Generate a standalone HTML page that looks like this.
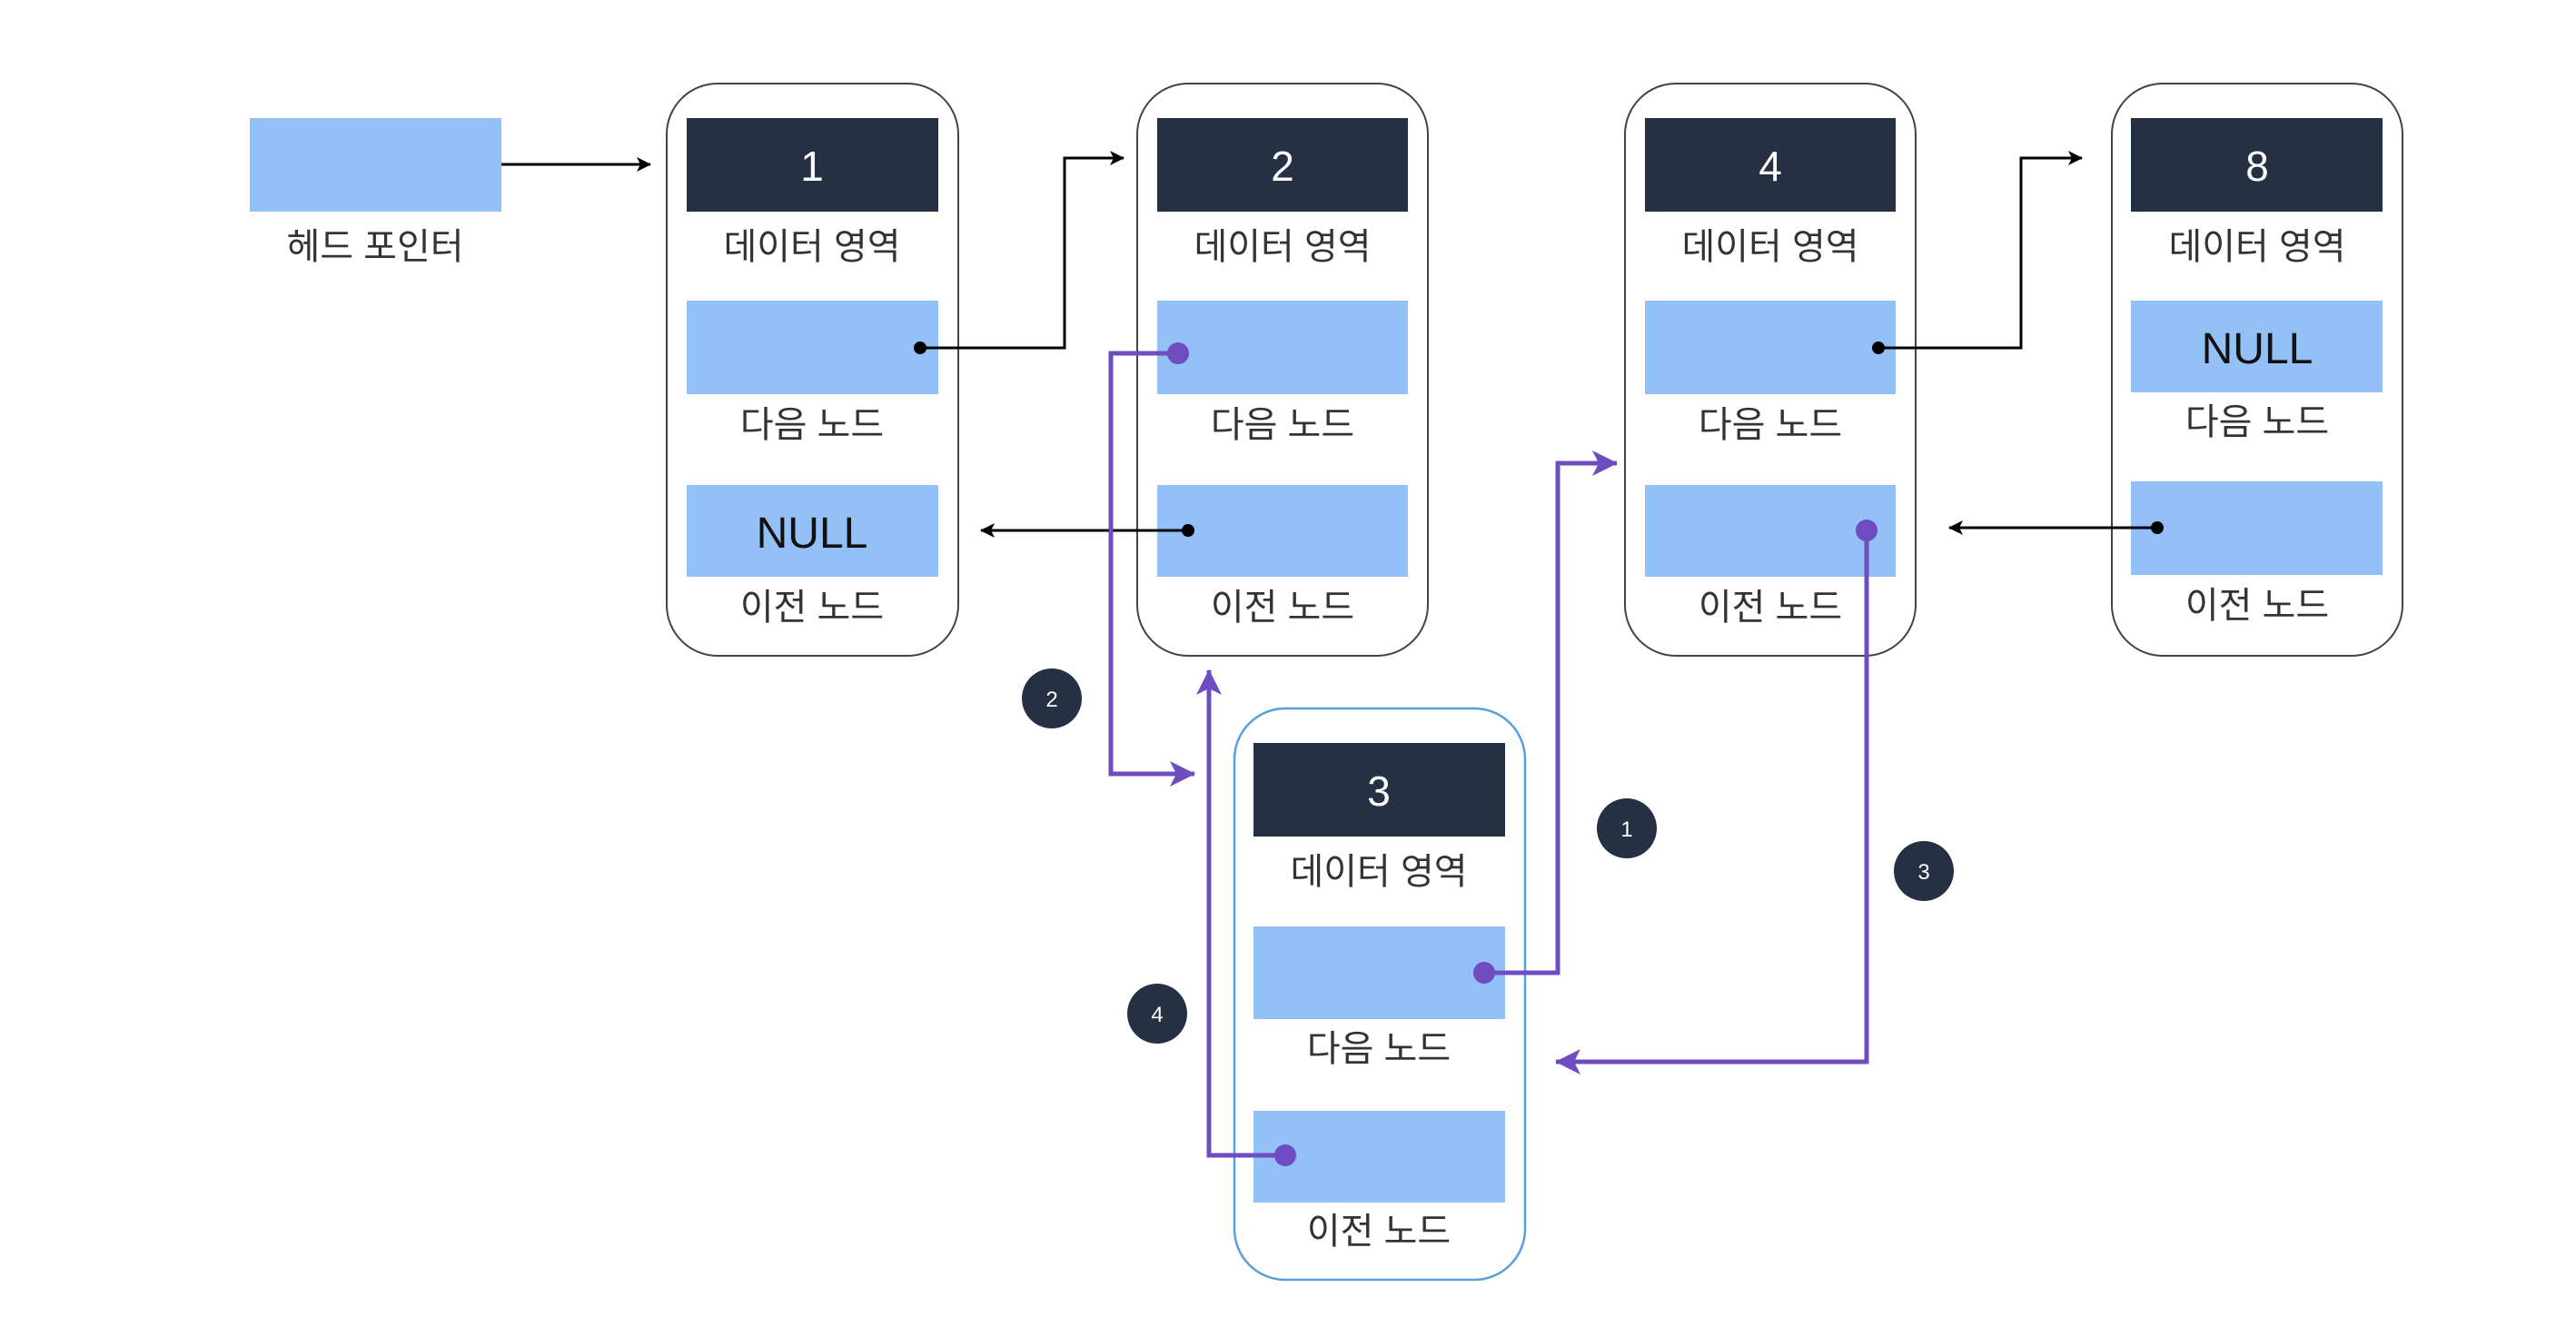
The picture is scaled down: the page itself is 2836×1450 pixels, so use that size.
<!DOCTYPE html>
<html><head><meta charset="utf-8"><style>
html,body{margin:0;padding:0;background:#fff;width:2836px;height:1450px;overflow:hidden}
text{font-family:"Liberation Sans","Noto Sans CJK KR",sans-serif}
</style></head><body>
<svg width="2836" height="1450" viewBox="0 0 2836 1450" xmlns="http://www.w3.org/2000/svg">
<defs>
<marker id="ab" markerWidth="10" markerHeight="10" refX="9" refY="5" orient="auto" markerUnits="userSpaceOnUse" viewBox="0 0 10 10"><path d="M0,0 L10,5 L0,10 z" fill="#000"/></marker>
<marker id="ap" markerWidth="14" markerHeight="14" refX="13" refY="7" orient="auto" markerUnits="userSpaceOnUse" viewBox="0 0 14 14"><path d="M0,0 L14,7 L0,14 L4,7 z" fill="#6f4cbf"/></marker>
<marker id="ab2" viewBox="0 0 16 16" markerWidth="16" markerHeight="16" refX="15" refY="8" orient="auto" markerUnits="userSpaceOnUse"><path d="M0,0 L16,8 L0,16 L4,8 z" fill="#000"/></marker>
<marker id="ap2" viewBox="0 0 28 28" markerWidth="28" markerHeight="28" refX="27" refY="14" orient="auto" markerUnits="userSpaceOnUse"><path d="M0,0 L28,14 L0,28 L7,14 z" fill="#6f4cbf"/></marker>
</defs>

<!-- head pointer -->
<rect x="275" y="130" width="277" height="103" fill="#93c0f7"/>
<text x="413" y="285" font-size="40" text-anchor="middle" fill="#333">헤드 포인터</text>

<!-- node template helper: nodes drawn explicitly -->
<g font-size="40" fill="#333" text-anchor="middle">
<!-- Node 1 -->
<rect x="734" y="92" width="321" height="630" rx="56" fill="none" stroke="#444" stroke-width="2"/>
<rect x="756" y="130" width="277" height="103" fill="#263043"/>
<text x="894" y="199" font-size="46" fill="#fff">1</text>
<text x="894" y="285">데이터 영역</text>
<rect x="756" y="331" width="277" height="103" fill="#93c0f7"/>
<text x="894" y="481">다음 노드</text>
<rect x="756" y="534" width="277" height="101" fill="#93c0f7"/>
<text x="894" y="603" font-size="48" fill="#111">NULL</text>
<text x="894" y="682">이전 노드</text>

<!-- Node 2 -->
<rect x="1252" y="92" width="320" height="630" rx="56" fill="none" stroke="#444" stroke-width="2"/>
<rect x="1274" y="130" width="276" height="103" fill="#263043"/>
<text x="1412" y="199" font-size="46" fill="#fff">2</text>
<text x="1412" y="285">데이터 영역</text>
<rect x="1274" y="331" width="276" height="103" fill="#93c0f7"/>
<text x="1412" y="481">다음 노드</text>
<rect x="1274" y="534" width="276" height="101" fill="#93c0f7"/>
<text x="1412" y="682">이전 노드</text>

<!-- Node 4 -->
<rect x="1789" y="92" width="320" height="630" rx="56" fill="none" stroke="#444" stroke-width="2"/>
<rect x="1811" y="130" width="276" height="103" fill="#263043"/>
<text x="1949" y="199" font-size="46" fill="#fff">4</text>
<text x="1949" y="285">데이터 영역</text>
<rect x="1811" y="331" width="276" height="103" fill="#93c0f7"/>
<text x="1949" y="481">다음 노드</text>
<rect x="1811" y="534" width="276" height="101" fill="#93c0f7"/>
<text x="1949" y="682">이전 노드</text>

<!-- Node 8 -->
<rect x="2325" y="92" width="320" height="630" rx="56" fill="none" stroke="#444" stroke-width="2"/>
<rect x="2346" y="130" width="277" height="103" fill="#263043"/>
<text x="2485" y="199" font-size="46" fill="#fff">8</text>
<text x="2485" y="285">데이터 영역</text>
<rect x="2346" y="331" width="277" height="101" fill="#93c0f7"/>
<text x="2485" y="400" font-size="48" fill="#111">NULL</text>
<text x="2485" y="478">다음 노드</text>
<rect x="2346" y="530" width="277" height="103" fill="#93c0f7"/>
<text x="2485" y="680">이전 노드</text>

<!-- Node 3 -->
<rect x="1359" y="780" width="320" height="629" rx="56" fill="none" stroke="#5a9fdc" stroke-width="2.5"/>
<rect x="1380" y="818" width="277" height="103" fill="#263043"/>
<text x="1518" y="887" font-size="46" fill="#fff">3</text>
<text x="1518" y="973">데이터 영역</text>
<rect x="1380" y="1020" width="277" height="102" fill="#93c0f7"/>
<text x="1518" y="1168">다음 노드</text>
<rect x="1380" y="1223" width="277" height="101" fill="#93c0f7"/>
<text x="1518" y="1369">이전 노드</text>
</g>

<!-- black connectors -->
<g stroke="#000" stroke-width="3" fill="none">
<path d="M552 181 H716" marker-end="url(#ab2)"/>
<path d="M1013 383 H1172 V174 H1237" marker-end="url(#ab2)"/>
<path d="M1308 584 H1080" marker-end="url(#ab2)"/>
<path d="M2068 383 H2225 V174 H2292" marker-end="url(#ab2)"/>
<path d="M2375 581 H2146" marker-end="url(#ab2)"/>
</g>
<g fill="#000">
<circle cx="1013" cy="383" r="7"/><circle cx="1308" cy="584" r="7"/>
<circle cx="2068" cy="383" r="7"/><circle cx="2375" cy="581" r="7"/>
</g>

<!-- purple connectors -->
<g stroke="#6f4cbf" stroke-width="5" fill="none">
<path d="M1297 389 H1223 V852 H1315" marker-end="url(#ap2)"/>
<path d="M1415 1272 H1331 V738" marker-end="url(#ap2)"/>
<path d="M1634 1071 H1715 V510 H1780" marker-end="url(#ap2)"/>
<path d="M2055 584 V1169 H1713" marker-end="url(#ap2)"/>
</g>
<g fill="#6f4cbf">
<circle cx="1297" cy="389" r="12"/><circle cx="1415" cy="1272" r="12"/>
<circle cx="1634" cy="1071" r="12"/><circle cx="2055" cy="584" r="12"/>
</g>

<!-- badges -->
<g font-size="24" fill="#fff" text-anchor="middle">
<circle cx="1158" cy="769" r="33" fill="#263043"/><text x="1158" y="778">2</text>
<circle cx="1791" cy="912" r="33" fill="#263043"/><text x="1791" y="921">1</text>
<circle cx="2118" cy="959" r="33" fill="#263043"/><text x="2118" y="968">3</text>
<circle cx="1274" cy="1116" r="33" fill="#263043"/><text x="1274" y="1125">4</text>
</g>
</svg>
</body></html>
